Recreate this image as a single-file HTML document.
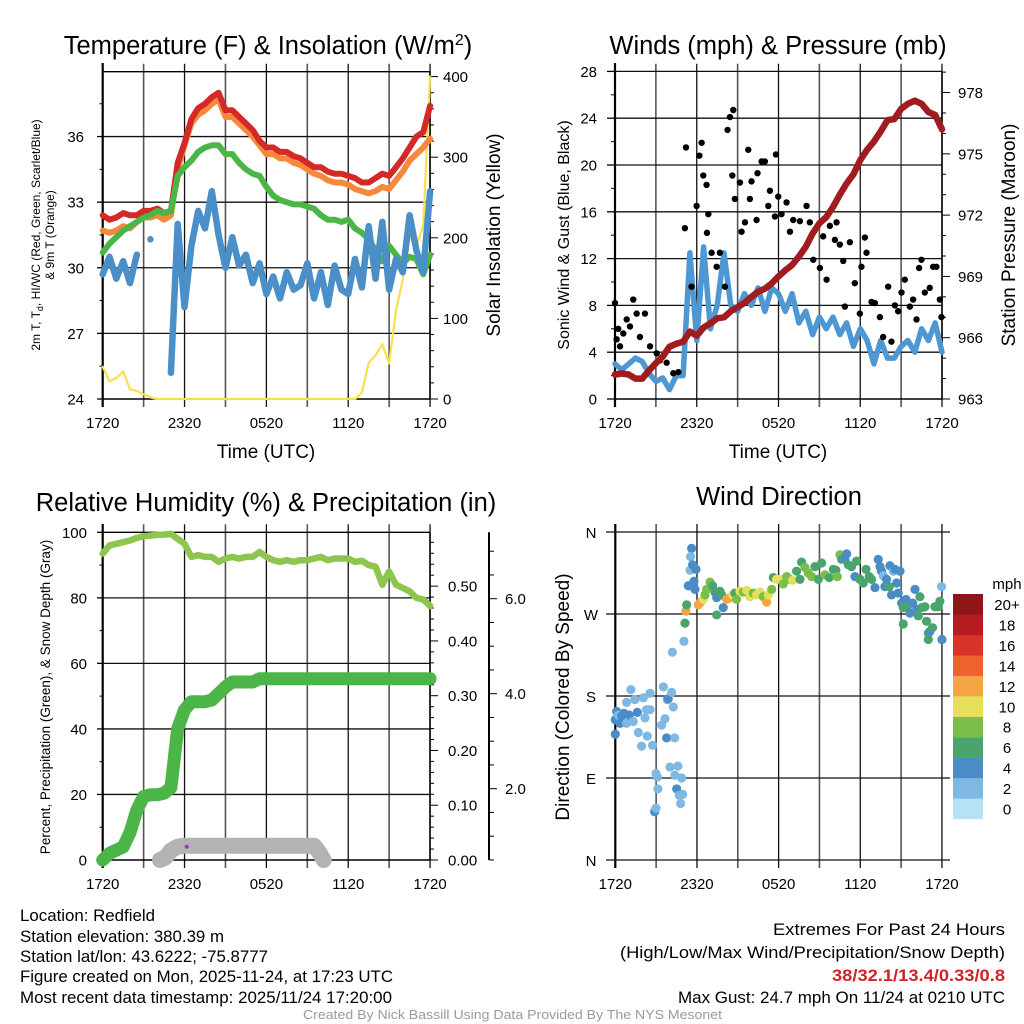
<!DOCTYPE html>
<html><head><meta charset="utf-8"><style>
html,body{margin:0;padding:0;background:#fff;}
svg{display:block;font-family:"Liberation Sans",sans-serif;}
</style></head><body>
<svg id="fig" width="1024" height="1024" viewBox="0 0 1024 1024" xmlns="http://www.w3.org/2000/svg">
<g id="layer"></g>
<text x="268" y="54" font-size="25.5" text-anchor="middle">Temperature (F) &amp; Insolation (W/m<tspan dy="-9" font-size="16">2</tspan><tspan dy="9">)</tspan></text>
<text x="778" y="54" font-size="25.5" text-anchor="middle">Winds (mph) &amp; Pressure (mb)</text>
<text x="266" y="511" font-size="25.5" text-anchor="middle">Relative Humidity (%) &amp; Precipitation (in)</text>
<text x="779" y="505" font-size="25.5" text-anchor="middle">Wind Direction</text>
<text x="266" y="458" font-size="19" text-anchor="middle">Time (UTC)</text>
<text x="778" y="458" font-size="19" text-anchor="middle">Time (UTC)</text>
<text transform="translate(40,235) rotate(-90)" font-size="12" text-anchor="middle">2m T, T<tspan dy="3" font-size="9">d</tspan><tspan dy="-3">, HI/WC (Red, Green, Scarlet/Blue)</tspan></text>
<text transform="translate(54,235) rotate(-90)" font-size="12" text-anchor="middle">&amp; 9m T (Orange)</text>
<text transform="translate(500,235) rotate(-90)" font-size="19" text-anchor="middle">Solar Insolation (Yellow)</text>
<text transform="translate(569,235) rotate(-90)" font-size="16" text-anchor="middle">Sonic Wind &amp; Gust (Blue, Black)</text>
<text transform="translate(1015,235) rotate(-90)" font-size="19" text-anchor="middle">Station Pressure (Maroon)</text>
<text transform="translate(50,697) rotate(-90)" font-size="13.5" text-anchor="middle">Percent, Precipitation (Green), &amp; Snow Depth (Gray)</text>
<text transform="translate(569,697) rotate(-90)" font-size="19" text-anchor="middle">Direction (Colored By Speed)</text>
<text x="1007" y="589" font-size="15" text-anchor="middle">mph</text>
<g font-size="17">
<text x="20" y="921" textLength="135" lengthAdjust="spacingAndGlyphs">Location: Redfield</text>
<text x="20" y="942" textLength="204" lengthAdjust="spacingAndGlyphs">Station elevation: 380.39 m</text>
<text x="20" y="962" textLength="248" lengthAdjust="spacingAndGlyphs">Station lat/lon: 43.6222; -75.8777</text>
<text x="20" y="982" textLength="373" lengthAdjust="spacingAndGlyphs">Figure created on Mon, 2025-11-24, at 17:23 UTC</text>
<text x="20" y="1003" textLength="372" lengthAdjust="spacingAndGlyphs">Most recent data timestamp: 2025/11/24 17:20:00</text>
</g>
<g font-size="17">
<text x="773" y="935" textLength="232" lengthAdjust="spacingAndGlyphs">Extremes For Past 24 Hours</text>
<text x="620" y="958" textLength="385" lengthAdjust="spacingAndGlyphs">(High/Low/Max Wind/Precipitation/Snow Depth)</text>
<text x="832" y="981" textLength="173" lengthAdjust="spacingAndGlyphs" fill="#d0232a" font-weight="bold">38/32.1/13.4/0.33/0.8</text>
<text x="678" y="1003" textLength="327" lengthAdjust="spacingAndGlyphs">Max Gust: 24.7 mph On 11/24 at 0210 UTC</text>
</g>
<text x="303" y="1019" font-size="13" fill="#9a9a9a" textLength="419" lengthAdjust="spacingAndGlyphs">Created By Nick Bassill Using Data Provided By The NYS Mesonet</text>
</svg>
<script>
// ---- shared time axis (hours since 1720 UTC) ----
const hours = [0,0.5,1,1.5,2,2.5,3,3.5,4,4.5,5,5.5,6,6.5,7,7.5,8,8.5,9,9.5,10,10.5,11,11.5,12,12.5,13,13.5,14,14.5,15,15.5,16,16.5,17,17.5,18,18.5,19,19.5,20,20.5,21,21.5,22,22.5,23,23.5,24];
const timeTicks = [0,6,12,18,24];
const timeTickLabels = ["1720","2320","0520","1120","1720"];
// ---- panel 1: temperature ----
const temp2m = [32.4,32.2,32.3,32.5,32.4,32.4,32.6,32.6,32.7,32.5,32.6,34.8,35.7,36.8,37.3,37.5,37.8,38.0,37.2,37.2,36.9,36.6,36.3,35.8,35.5,35.5,35.3,35.3,35.1,35.0,34.8,34.6,34.6,34.4,34.3,34.3,34.2,34.1,33.9,33.9,34.1,34.3,34.2,34.6,35.0,35.5,36.0,36.2,37.4];
const temp9m = [31.7,31.6,31.7,31.9,31.8,32.1,32.3,32.3,32.4,32.2,32.4,34.5,35.6,36.6,37.0,37.2,37.5,37.7,36.9,36.9,36.6,36.3,36.0,35.6,35.2,35.2,35.0,35.0,34.8,34.7,34.5,34.3,34.2,34.0,33.9,33.9,33.8,33.6,33.5,33.4,33.5,33.7,33.6,34.0,34.4,34.9,35.2,35.5,35.9];
const heatIndex = [30.7,31.1,31.4,31.7,31.9,32.1,32.3,32.4,32.6,32.5,32.6,34.2,34.6,34.9,35.3,35.5,35.6,35.6,35.2,35.2,34.8,34.5,34.3,34.2,33.7,33.3,33.1,33.0,32.9,32.9,32.8,32.7,32.4,32.2,32.2,32.1,32.2,31.8,31.6,31.3,30.8,30.3,31.0,30.6,30.2,30.5,30.4,29.7,30.6];
const dewpoint = [29.7,30.5,29.5,30.3,29.3,30.6,null,31.3,null,null,25.2,32.0,28.2,31.0,32.6,31.8,33.5,31.5,30.0,31.4,30.1,30.6,29.3,30.2,28.8,29.6,28.6,29.8,29.0,29.2,30.2,28.6,29.8,28.3,30.1,29.0,28.8,30.4,29.1,31.9,29.5,32.1,29.0,30.4,29.8,32.4,30.8,29.8,33.5];
const insolation = [40,22,26,34,12,10,6,2,0,0,0,0,0,0,0,0,0,0,0,0,0,0,0,0,0,0,0,0,0,0,0,0,0,0,0,0,0,0,8,45,54,68,44,110,148,200,190,215,400];
const tempTicks = [24,27,30,33,36];
const solarTicks = [0,100,200,300,400];
// ---- panel 2: winds & pressure ----
const windSpeed = [3,2.5,3,3.5,3.2,2.2,1.5,1.8,0.8,2.0,2.0,12.5,5,13,6,8,12.5,8,7.5,9,8,9.5,7.5,9.5,9,7.5,9,6.5,7.5,5.5,7,6,7,5.5,6.5,4.5,6,5,3,5,3.5,3.5,4.5,5,4,6,5,6.5,4];
const pressure = [964.2,964.25,964.2,964.0,964.0,964.4,964.75,965.07,965.56,965.7,965.8,966.3,966.1,966.5,966.7,966.95,967.0,967.3,967.5,967.7,968.0,968.25,968.4,968.66,969.0,969.3,969.56,969.97,970.45,971.1,971.6,971.9,972.4,973.0,973.55,974.0,974.7,975.2,975.6,976.1,976.65,976.7,977.2,977.45,977.6,977.45,977.05,976.9,976.2];
const gustHours = [0,0.12,0.24,0.37,0.61,0.86,1.10,1.34,1.59,1.83,2.2,2.57,3.06,3.3,3.79,4.28,4.65,5.13,5.21,5.62,5.99,6.19,6.36,6.48,6.72,6.85,6.75,7.09,7.46,7.7,8.07,8.26,8.44,8.68,8.61,8.8,9.17,9.29,9.54,9.78,9.9,10.02,10.39,10.46,10.76,11.0,11.25,11.37,11.74,11.81,11.98,12.22,12.59,12.84,13.08,13.57,14.06,14.3,14.55,15.04,15.28,15.53,15.77,16.14,16.26,16.5,16.75,16.87,17.24,17.6,17.97,18.09,18.34,18.46,18.83,19.07,19.44,19.68,20.05,20.29,20.54,20.78,21.03,21.27,21.64,21.88,22.13,22.32,22.49,22.74,23.1,23.35,23.59,23.84,23.96];
const gustSpeed = [8.2,5.1,6,4.5,5.6,6.8,6.2,8.5,7.3,5.3,7.3,4.5,3.9,3.3,3.1,2.2,2.3,14.6,21.5,9.6,16.5,20.8,21.9,19.1,18.3,15.8,14.2,12.5,11.3,12.5,9.6,23,24.1,24.7,19.1,17.1,18.5,14.3,15.1,21.3,17.1,18.6,15.3,19.3,20.3,20.3,16.5,17.8,15.6,20.9,17.3,15.8,16.8,14.3,15.3,15.2,16.5,15.1,11.9,11.2,13.9,10.2,14.8,13.6,15.1,13.2,11.8,7.9,13.4,9.9,7.3,11.3,13.8,12.5,8.3,8.2,7,5.3,9.6,4.9,8,7.5,9.1,10.2,7.9,8.5,6.8,11.2,11.9,9.1,9.5,11.3,11.3,8.5,7];
const windTicks = [0,4,8,12,16,20,24,28];
const pressureTicks = [963,966,969,972,975,978];
// ---- panel 3: humidity, precipitation, snow ----
const humidity = [93.5,96,96.5,97,97.5,98.3,98.8,99,99.2,99.3,99.5,98,96.5,92.5,93,92.5,92.5,91,92,92.5,92,92.5,92.5,94,92.5,91.5,91,91.5,91,91.5,91.5,92,92.5,91.5,92,92,92,91,91.3,90,89.5,84,88,84,83,82,80,79.5,77.5];
const precip = [0,0.012,0.018,0.024,0.05,0.091,0.116,0.119,0.119,0.122,0.132,0.24,0.274,0.289,0.289,0.289,0.292,0.304,0.316,0.325,0.325,0.325,0.325,0.331,0.331,0.331,0.331,0.331,0.331,0.331,0.331,0.331,0.331,0.331,0.331,0.331,0.331,0.331,0.331,0.331,0.331,0.331,0.331,0.331,0.331,0.331,0.331,0.331,0.331];
const snowHours = [4.2,4.6,5.0,5.5,6.0,8,10,12,14,15.5,15.9,16.2];
const snowDepth = [0.5,0.55,0.7,0.78,0.8,0.8,0.8,0.8,0.8,0.8,0.65,0.5];
const pctTicks = [0,20,40,60,80,100];
const precipTicks = [0,0.1,0.2,0.3,0.4,0.5];
const precipTickLabels = ["0.00","0.10","0.20","0.30","0.40","0.50"];
const snowTicks = [2,4,6];
const snowTickLabels = ["2.0","4.0","6.0"];
// ---- panel 4: wind direction ----
const dirHours = [0,0.10,0.22,0.34,0.47,0,0.64,0.83,0.83,1.03,1.15,1.32,1.44,1.62,1.69,1.93,2.06,2.18,2.30,2.35,2.55,2.55,2.74,2.99,3.09,3.13,2.89,2.99,3.40,3.53,3.65,3.77,3.82,3.89,4.02,4.14,4.26,4.36,4.38,4.51,4.60,4.70,4.80,4.87,4.95,4.19,5.04,5.12,5.19,5.24,5.36,5.61,5.53,5.49,5.68,5.93,5.85,5.78,6.10,6.27,6.47,6.59,6.71,6.96,7.15,7.32,7.45,7.45,7.69,7.81,7.93,8.18,8.43,8.62,8.79,8.91,9.16,9.40,9.65,9.89,10.14,10.38,10.63,10.87,11.12,11.24,11.49,11.61,11.85,12.10,12.34,12.59,12.83,13.03,13.32,13.57,13.69,13.94,14.18,14.43,14.67,14.92,15.16,15.41,15.72,16.02,16.21,16.31,16.51,16.63,16.87,17.00,17.12,17.36,17.61,17.73,17.98,18.22,18.42,18.66,18.83,19.08,19.32,19.45,19.56,19.69,19.81,19.93,20.18,20.13,20.30,20.43,20.55,20.67,20.79,20.92,21.04,21.16,21.16,21.36,21.45,21.65,21.85,22.02,22.14,22.26,22.38,22.51,22.75,22.87,23.00,23.00,23.12,23.31,23.48,23.73,23.85,23.97,24.0];
const dirDegrees = [154,163,159,150,158,138,161,150,173,159,187,152,176,162,140,125,178,156,165,136,183,165,126,95,91,78,53,57,148,190,155,134,176,177,102,184,168,134,93,78,103,71,62,90,72,228,240,260,273,280,301,342,333,318,324,319,297,306,280,283,286,291,297,305,301,294,288,269,295,291,277,286,288,291,293,286,295,294,296,289,293,291,294,289,283,291,297,310,308,308,303,311,308,307,317,308,327,321,315,311,322,308,326,313,310,319,318,311,335,330,330,336,324,322,311,328,308,304,319,311,308,299,330,322,317,312,300,308,323,300,291,317,319,304,293,317,282,277,259,286,278,271,282,297,275,268,289,277,278,262,249,242,251,255,278,278,284,300,242];
const dirSpeed = [3,3,2,3,3,3,3,2,2,3,2,2,2,4,2,2,2,2,2,1,2,2,1,2,1,1,3,1,1,1,2,3,2,3,2,1,1,1,1,3,2,1,1,1,1,1,1,6,12,6,4,4,2,2,4,4,4,4,12,12,10,8,8,8,6,6,4,6,6,6,4,12,12,10,6,8,10,8,10,10,8,10,10,8,12,10,8,6,10,10,8,8,8,10,6,6,6,8,8,8,6,6,6,8,6,6,6,8,8,6,4,4,6,6,4,6,6,6,6,6,6,4,4,4,4,2,4,4,4,6,4,2,4,4,4,4,4,6,6,4,6,4,4,4,4,6,6,6,6,6,6,6,4,6,6,6,6,2,4,4];
const dirTickLabels = ["N","E","S","W","N"];
const dirTicks = [0,90,180,270,360];
const speedBins = ["0","2","4","6","8","10","12","14","16","18","20+"];
const speedColors = ["#b5e2f5","#80b8e4","#4a8cc5","#4aa46e","#7bbf4a","#e5df5a","#f6a546","#ee6230","#d93328","#b71c23","#8f1519"];

// ---- scales ----
const x1 = h => 102.7 + h * 13.64;
const yT = t => 399 - (t - 24) * 21.87;
const yS = s => 399 - s * 0.806;
const x2 = h => 615 + h * 13.625;
const yW = v => 399 - v * 11.7;
const yP = p => 399 - (p - 963) * 20.43;
const x3 = h => 102.7 + h * 13.64;
const yPct = v => 860 - v * 3.277;
const yIn = v => 860 - v * 547.7;
const ySnow = v => 883.7 - v * 47.5;
const x4 = h => 615.3 + h * 13.61;
const yDir = d => 860 - d * 0.9111;

const NS = "http://www.w3.org/2000/svg";
const layer = document.getElementById('layer');
function mk(tag, attrs, parent) {
  const e = document.createElementNS(NS, tag);
  for (const k in attrs) e.setAttribute(k, attrs[k]);
  (parent || layer).appendChild(e);
  return e;
}
function txt(x, y, s, size, anchor, name) {
  const t = mk('text', {x: x, y: y, 'font-size': size, 'text-anchor': anchor});
  t.textContent = s;
  
  
  return t;
}
function lineSeg(x1_, y1_, x2_, y2_, stroke, w, name) {
  const l = mk('line', {x1: x1_, y1: y1_, x2: x2_, y2: y2_, stroke: stroke, 'stroke-width': w});
  
  
  return l;
}
function series(xs, ys, xf, yf, color, w, name) {
  const g = mk('g', {});
  
  
  let pts = [];
  const flush = () => {
    if (pts.length > 1) {
      const p = mk('polyline', {points: pts.join(' '), fill: 'none', stroke: color, 'stroke-width': w, 'stroke-linejoin': 'round', 'stroke-linecap': 'round'}, g);
      
      
    } else if (pts.length === 1) {
      const xy = pts[0].split(',');
      const c = mk('circle', {cx: xy[0], cy: xy[1], r: w / 2, fill: color}, g);
      
      
    }
    pts = [];
  };
  for (let i = 0; i < xs.length; i++) {
    if (ys[i] === null || ys[i] === undefined) { flush(); continue; }
    pts.push(xf(xs[i]).toFixed(1) + ',' + yf(ys[i]).toFixed(1));
  }
  flush();
  return g;
}
function vgrid(xf, top, bot, name) {
  for (let h = 0; h <= 24; h += 3) {
    lineSeg(xf(h), top - 8, xf(h), bot + 8, h % 6 === 0 ? '#111' : '#555', h % 6 === 0 ? 1.3 : 1.6, name);
  }
}

// ================= PANEL 1 =================
vgrid(x1, 71.7, 399, 'temp-vertical-gridline');
tempTicks.forEach((t, i) => {
  if (i > 0) lineSeg(102.7, yT(t), 430, yT(t), '#111', 1.3, 'temp-horizontal-gridline');
  lineSeg(97, yT(t), 102.7, yT(t), '#000', 1.3, 'temp-y-tick');
  txt(84, yT(t) + 5.5, String(t), 15, 'end', 'temp-y-tick-label');
  lineSeg(99.5, yT(t + 1.5), 102.7, yT(t + 1.5), '#000', 1, 'temp-y-minor-tick');
});
lineSeg(102.7, 71.7, 430, 71.7, '#000', 1.3, 'temp-top-frame');
lineSeg(102.7, 63, 102.7, 407, '#000', 2.2, 'temp-left-axis');
lineSeg(430, 71.7, 430, 399, '#000', 1.5, 'temp-right-axis');
lineSeg(102.7, 399, 430, 399, '#000', 1.5, 'temp-bottom-axis');
for (let s = 0; s <= 400; s += 20) {
  lineSeg(430, yS(s), s % 100 === 0 ? 438 : 434, yS(s), '#000', 1, 'solar-y-tick');
}
solarTicks.forEach(s => txt(443, yS(s) + 5.5, String(s), 15, 'start', 'solar-y-tick-label'));
timeTicks.forEach((h, i) => txt(x1(h), 428, timeTickLabels[i], 15, 'middle', 'temp-x-tick-label'));
series(hours, insolation, x1, yS, '#f7e04e', 2.2, 'insolation-series');
series(hours, temp9m, x1, yT, '#f5883a', 6, 'temp-9m-series');
series(hours, temp2m, x1, yT, '#d32a27', 6, 'temp-2m-series');
series(hours, heatIndex, x1, yT, '#4cb548', 6, 'heat-index-series');
series(hours, dewpoint, x1, yT, '#4a8fc8', 6.5, 'dewpoint-series');

// ================= PANEL 2 =================
vgrid(x2, 71.7, 399, 'wind-vertical-gridline');
windTicks.forEach((v, i) => {
  if (i > 0) lineSeg(615, yW(v), 942, yW(v), '#111', 1.3, 'wind-horizontal-gridline');
  lineSeg(607, yW(v), 615, yW(v), '#000', 1.3, 'wind-y-tick');
  if (v < 28) lineSeg(611, yW(v + 2), 615, yW(v + 2), '#000', 1, 'wind-y-minor-tick');
  txt(597, yW(v) + 5.5, String(v), 15, 'end', 'wind-y-tick-label');
});
lineSeg(615, 63, 615, 407, '#000', 2.2, 'wind-left-axis');
lineSeg(942, 71.7, 942, 399, '#000', 1.5, 'wind-right-axis');
lineSeg(615, 399, 942, 399, '#000', 1.5, 'wind-bottom-axis');
for (let p = 963; p <= 979; p += 1) {
  lineSeg(942, yP(p), (p % 3 === 0) ? 950 : 946, yP(p), '#000', 1, 'pressure-y-tick');
}
pressureTicks.forEach(p => txt(958, yP(p) + 5.5, String(p), 15, 'start', 'pressure-y-tick-label'));
timeTicks.forEach((h, i) => txt(x2(h), 428, timeTickLabels[i], 15, 'middle', 'wind-x-tick-label'));
series(hours, windSpeed, x2, yW, '#4f97d2', 5.5, 'sonic-wind-series');
const gustG = mk('g', {});


gustHours.forEach((h, i) => {
  const c = mk('circle', {cx: x2(h), cy: yW(gustSpeed[i]), r: 3.2, fill: '#000'}, gustG);
  
  
});
series(hours, pressure, x2, yP, '#a11c1f', 6.5, 'pressure-series');

// ================= PANEL 3 =================
vgrid(x3, 532.3, 860, 'humidity-vertical-gridline');
pctTicks.forEach((v, i) => {
  if (i > 0 && v < 100) lineSeg(102.7, yPct(v), 430, yPct(v), '#111', 1.3, 'humidity-horizontal-gridline');
  lineSeg(97, yPct(v), 102.7, yPct(v), '#000', 1.3, 'humidity-y-tick');
  if (v < 100) lineSeg(99.5, yPct(v + 10), 102.7, yPct(v + 10), '#000', 1, 'humidity-y-minor-tick');
  txt(87, yPct(v) + 5.5, String(v), 15, 'end', 'humidity-y-tick-label');
});
lineSeg(102.7, 532.3, 430, 532.3, '#000', 1.3, 'humidity-top-frame');
lineSeg(102.7, 524, 102.7, 868, '#000', 2.2, 'humidity-left-axis');
lineSeg(430, 532.3, 430, 860, '#000', 1.5, 'humidity-right-axis');
lineSeg(102.7, 860, 430, 860, '#000', 1.5, 'humidity-bottom-axis');
for (let k = 0; k <= 30; k++) {
  const v = k * 0.02;
  if (yIn(v) < 532) break;
  lineSeg(430, yIn(v), k % 5 === 0 ? 438 : 434, yIn(v), '#000', 1, 'precip-y-tick');
}
precipTicks.forEach((v, i) => txt(448, yIn(v) + 5.5, precipTickLabels[i], 15, 'start', 'precip-y-tick-label'));
lineSeg(489, 532.3, 489, 860, '#000', 2, 'snow-axis');
for (let k = 1; k <= 14; k++) {
  const v = k * 0.5;
  if (ySnow(v) < 532) break;
  lineSeg(489, ySnow(v), k % 4 === 0 ? 497 : 494, ySnow(v), '#000', 1, 'snow-y-tick');
}
snowTicks.forEach((v, i) => txt(505, ySnow(v) + 5.5, snowTickLabels[i], 15, 'start', 'snow-y-tick-label'));
timeTicks.forEach((h, i) => txt(x3(h), 889, timeTickLabels[i], 15, 'middle', 'humidity-x-tick-label'));
series(snowHours, snowDepth, x3, ySnow, '#b3b3b3', 16, 'snow-depth-series');
series(hours, precip, x3, yIn, '#4cb548', 13, 'precip-series');
series(hours, humidity, x3, yPct, '#8cc64e', 6.5, 'humidity-series');
const purple = mk('circle', {cx: 186.7, cy: 846.7, r: 2, fill: '#9b30e0'});



// ================= PANEL 4 =================
for (let h = 0; h <= 24; h += 3) {
  lineSeg(x4(h), 524, x4(h), 868, h % 6 === 0 ? '#111' : '#555', h % 6 === 0 ? 1.3 : 1.6, 'direction-vertical-gridline');
}
lineSeg(x4(0), 524, x4(0), 868, '#000', 2.2, 'direction-left-axis');
dirTicks.forEach((d, i) => {
  lineSeg(606, yDir(d), 950, yDir(d), '#111', 1.3, 'direction-horizontal-gridline');
  txt(591, yDir(d) + 6, dirTickLabels[i], 15, 'middle', 'direction-y-tick-label');
});
timeTicks.forEach((h, i) => txt(x4(h), 889, timeTickLabels[i], 15, 'middle', 'direction-x-tick-label'));
const dirG = mk('g', {});


dirHours.forEach((h, i) => {
  const bin = Math.min(10, Math.max(0, Math.round(dirSpeed[i] / 2)));
  const c = mk('circle', {cx: x4(h), cy: yDir(dirDegrees[i]), r: 4.6, fill: speedColors[bin]}, dirG);
  
  
});
speedBins.forEach((lab, i) => {
  const yTop = 594 + (10 - i) * 20.45;
  const r = mk('rect', {x: 953, y: yTop, width: 30, height: 20.6, fill: speedColors[i]});
  
  
  txt(1007, yTop + 16, lab, 15, 'middle', 'colorbar-label');
});
</script>
</body></html>
